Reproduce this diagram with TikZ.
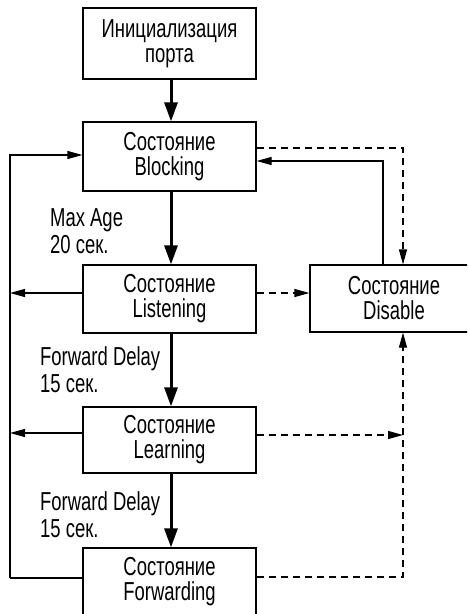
\documentclass[tikz,border=0pt]{standalone}
\usepackage{fontspec}
\setmainfont{Liberation Sans}[FakeStretch=0.71]
\usetikzlibrary{arrows.meta}
\tikzset{
  statebox/.style={draw, line width=1.2pt, minimum width=173pt, inner sep=0pt, align=center, font=\fontsize{26}{25}\selectfont},
  lbl/.style={anchor=base west, align=left, inner sep=0pt, font=\fontsize{26}{26.5}\selectfont},
  thick arrow/.style={line width=3pt, -{Triangle[length=19pt,width=13pt]}},
  thin arrow/.style={line width=1.2pt, -{Triangle[length=15pt,width=8pt]}},
  thin line/.style={line width=1.2pt},
  dash line/.style={line width=1.2pt, dash pattern=on 7pt off 5pt},
  dash arrow/.style={dash line, -{Triangle[length=15pt,width=8pt]}},
}
\begin{document}
\begin{tikzpicture}[x=1pt,y=-1pt]
\clip (0,0) rectangle (467,614);
\fill[white] (0,0) rectangle (467,614);
\node[statebox, minimum height=71pt] (init) at (169.5,43.5) {Инициализация\\порта};
\node[statebox, minimum height=69pt] (blk) at (169.5,156.5) {Состояние\\Blocking};
\node[statebox, minimum height=68pt] (lis) at (169.5,299) {Состояние\\Listening};
\node[statebox, minimum height=66pt] (lrn) at (169.5,440) {Состояние\\Learning};
\node[statebox, minimum height=68pt] (fwd) at (169.5,582) {Состояние\\Forwarding};
\node[statebox, minimum width=168pt, minimum height=67pt] (dis) at (394,298.5) {Состояние\\Disable};

\node[lbl] (l1) at (50,253) {Max Age\\20 сек.};
\node[lbl] (l2) at (40,392) {Forward Delay\\15 сек.};
\node[lbl] (l3) at (40,537) {Forward Delay\\15 сек.};

% main chain
\draw[thick arrow] (init.south -| 171,0) -- (blk.north -| 171,0);
\draw[thick arrow] (blk.south -| 171,0) -- (lis.north -| 171,0);
\draw[thick arrow] (lis.south -| 171,0) -- (lrn.north -| 171,0);
\draw[thick arrow] (lrn.south -| 171,0) -- (fwd.north -| 171,0);

% left loop
\coordinate (lbot) at (10,578);
\coordinate (ltop) at (10,155);
\draw[thin line] (fwd.west |- lbot) -- (lbot);
\draw[thin arrow] (lbot) -- (ltop) -- (blk.west |- ltop);
\draw[thin arrow] (lis.west |- 0,293) -- (10,293);
\draw[thin arrow] (lrn.west |- 0,433) -- (10,433);

% right side
\coordinate (rtop) at (403,148);
\draw[dash arrow] (blk.east |- rtop) -- (rtop) -- (rtop |- dis.north);
\coordinate (rsol) at (383,161);
\draw[thin arrow] (rsol |- dis.north) -- (rsol) -- (blk.east |- rsol);
\draw[dash arrow] (lis.east |- 0,293) -- (dis.west |- 0,293);
\coordinate (rlrn) at (403,435);
\draw[dash arrow] (lrn.east |- rlrn) -- (rlrn);
\coordinate (rbot) at (403,577);
\draw[dash arrow] (fwd.east |- rbot) -- (rbot) -- (rbot |- dis.south);
\end{tikzpicture}
\end{document}
